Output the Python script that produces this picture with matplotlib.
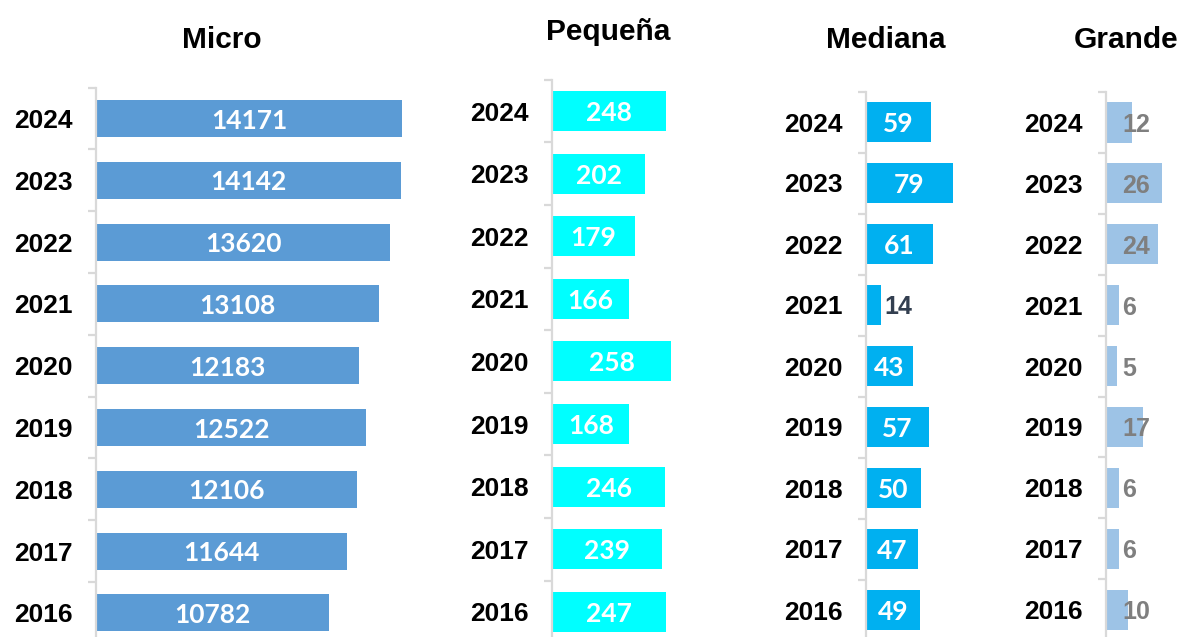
import matplotlib
matplotlib.use("Agg")
import matplotlib.pyplot as plt

years = ["2024", "2023", "2022", "2021", "2020", "2019", "2018", "2017", "2016"]
micro = [14171, 14142, 13620, 13108, 12183, 12522, 12106, 11644, 10782]
pequena = [248, 202, 179, 166, 258, 168, 246, 239, 247]
mediana = [59, 79, 61, 14, 43, 57, 50, 47, 49]
grande = [12, 26, 24, 6, 5, 17, 6, 6, 10]

titles = ["Micro", "Pequeña", "Mediana", "Grande"]

W, H = 1183, 637
DPI = 100
fig = plt.figure(figsize=(W / DPI, H / DPI), dpi=DPI)

TITLE_FONT = "Liberation Sans"
VAL_FONT = "Lato"
GRID = "#D9D9D9"

# panel layout in pixels: left, top, width, spacing, xmax, bar height
panels = [
    dict(data=micro, color="#5B9BD5", left=96, top=87.6, width=330, sp=61.8, xmax=15283, bh=0.60,
         mode="center", title_xy=(222, 36.5)),
    dict(data=pequena, color="#00FFFF", left=552, top=79.7, width=130, sp=62.6, xmax=282, bh=0.64,
         mode="center", title_xy=(608, 29)),
    dict(data=mediana, color="#00B0F0", left=866, top=91.5, width=100, sp=61.0, xmax=91, bh=0.66,
         mode="mixed", title_xy=(885.5, 37.5)),
    dict(data=grande, color="#9DC3E6", left=1106, top=92, width=70, sp=60.9, xmax=32.5, bh=0.66,
         mode="fixed", title_xy=(1126, 37.5)),
]

for p, title in zip(panels, titles):
    h = 9 * p["sp"]
    rect = [p["left"] / W, 1 - (p["top"] + h) / H, p["width"] / W, h / H]
    ax = fig.add_axes(rect)
    ys = list(range(len(years)))
    ax.barh(ys, p["data"], height=p["bh"], color=p["color"], edgecolor="none", zorder=2)
    ax.set_ylim(8.5, -0.5)
    ax.set_xlim(0, p["xmax"])
    for s in ["top", "right", "bottom"]:
        ax.spines[s].set_visible(False)
    ax.spines["left"].set_color(GRID)
    ax.spines["left"].set_linewidth(1.6)
    ax.set_xticks([])
    ax.set_yticks(ys)
    ax.set_yticklabels(years, fontfamily=TITLE_FONT, fontweight="bold", fontsize=19, color="black",
                       va="center_baseline")
    ax.tick_params(axis="y", which="major", length=0, pad=17)
    ax.set_yticks([y - 0.5 for y in ys] + [8.5], minor=True)
    ax.tick_params(axis="y", which="minor", length=6, width=1.6, color=GRID, direction="out")
    ax.patch.set_alpha(0)

    for y, v in zip(ys, p["data"]):
        if p["mode"] == "center" or (p["mode"] == "mixed" and v >= 20):
            ax.text(v / 2, y, str(v), ha="center", va="center_baseline", color="white",
                    fontfamily=VAL_FONT, fontweight="bold", fontsize=19, zorder=3)
        elif p["mode"] == "mixed":
            ax.annotate(str(v), xy=(v, y), xytext=(3, 0), textcoords="offset pixels",
                        ha="left", va="center_baseline", color="#333F50",
                        fontfamily=TITLE_FONT, fontweight="bold", fontsize=18, zorder=3)
        else:
            ax.annotate(str(v), xy=(0, y), xytext=(16, 0), textcoords="offset pixels",
                        ha="left", va="center_baseline", color="#7F7F7F",
                        fontfamily=TITLE_FONT, fontweight="bold", fontsize=18, zorder=3)

    tx, ty = p["title_xy"]
    fig.text(tx / W, 1 - ty / H, title, ha="center", va="center_baseline",
             fontfamily=TITLE_FONT, fontweight="bold", fontsize=21.5, color="black")

fig.savefig("out.png", dpi=DPI)
